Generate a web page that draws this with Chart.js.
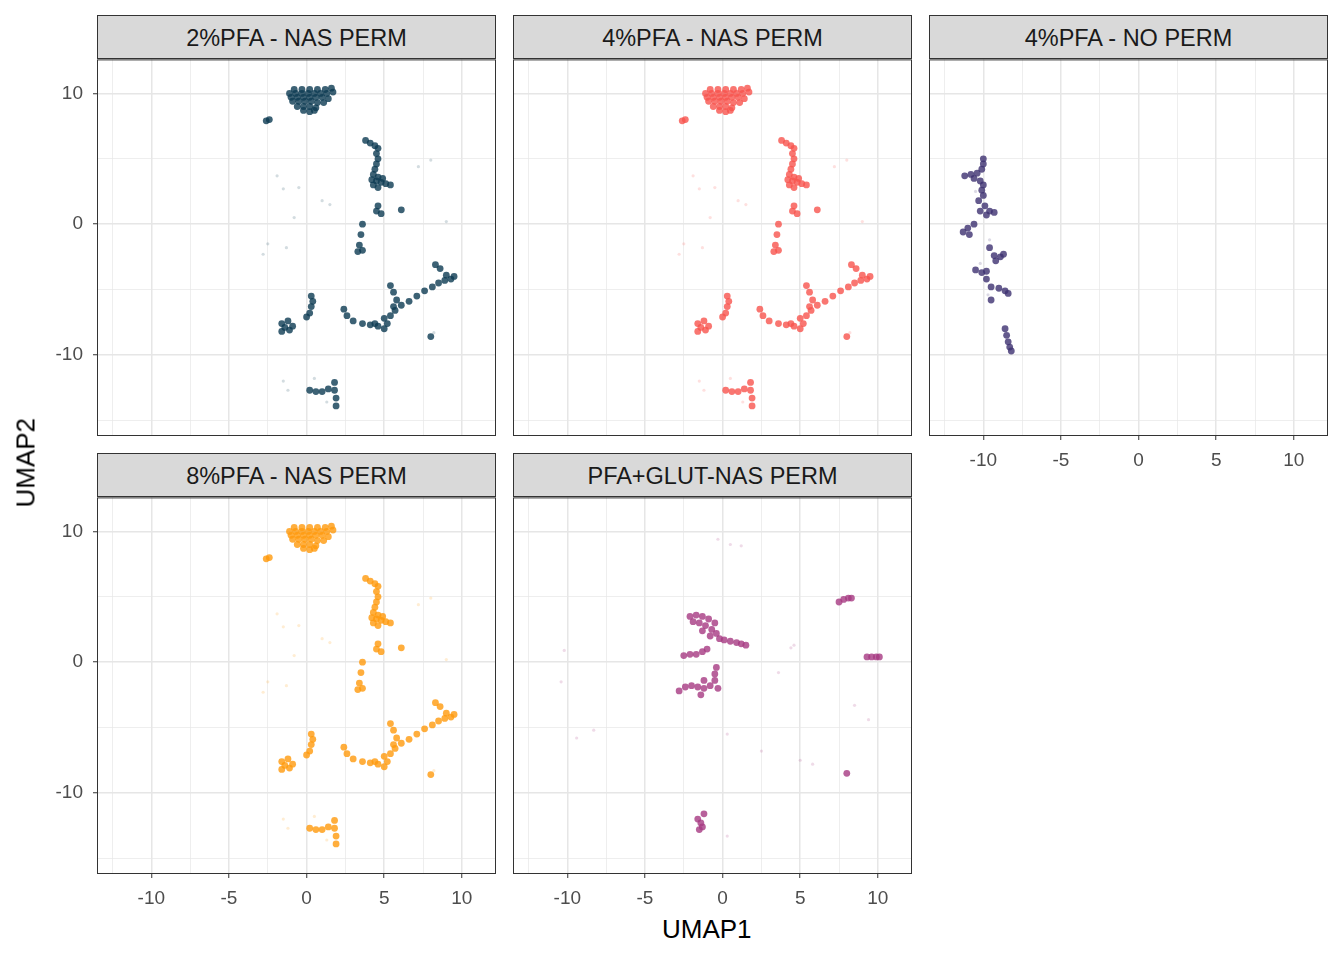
<!DOCTYPE html>
<html><head><meta charset="utf-8">
<script src="https://cdn.jsdelivr.net/npm/chart.js@4"></script>
<style>
body{margin:0;width:1344px;height:960px;background:#fff;position:relative;font-family:"Liberation Sans",Arial,sans-serif;overflow:hidden}
canvas{position:absolute}
.strip{position:absolute;width:397px;height:42px;background:#d9d9d9;border:1px solid #333;font-size:23.5px;color:#1a1a1a;text-align:center;line-height:44px}
.t{position:absolute;font-size:26px;color:#000}
</style></head><body>
<script>
// ---- data ----
const panelTitles = ["2%PFA - NAS PERM","4%PFA - NAS PERM","4%PFA - NO PERM","8%PFA - NAS PERM","PFA+GLUT-NAS PERM"];
const xTickLabels = [-10,-5,0,5,10];
const yTickLabels = [-10,0,10];
const nasPermPoints = [
 [-0.8,10.3],[-0.3,10.3],[0.2,10.3],[0.7,10.3],[1.2,10.3],[1.6,10.4],
 [-1.1,10],[-0.7,10],[-0.3,10],[0.1,10],[0.5,10],[0.9,10],[1.3,10],[1.7,10.1],
 [-1,9.7],[-0.6,9.7],[-0.2,9.7],[0.2,9.7],[0.6,9.7],[1,9.7],[1.4,9.6],
 [-0.9,9.4],[-0.5,9.4],[-0.1,9.4],[0.3,9.4],[0.7,9.3],[1.1,9.3],
 [-0.6,9.0],[-0.2,9.0],[0.2,9.0],[0.6,8.9],[-0.2,8.7],[0.2,8.6],[0.5,8.7],
 [-2.6,7.9],[-2.4,8.0],
 [3.8,6.4],[4.1,6.2],[4.4,6.0],[4.6,5.8],[4.5,5.4],[4.6,5.0],[4.5,4.6],[4.4,4.2],[4.3,3.8],
 [4.2,3.4],[4.5,3.3],[4.8,3.2],[5.1,3.1],[5.4,3.0],[4.6,2.8],[4.3,3.0],[4.9,3.5],[4.6,3.6],
 [4.6,1.4],[4.5,1.0],[4.8,0.8],[6.1,1.1],
 [3.6,0.0],[3.5,-0.8],[3.4,-1.6],[3.3,-2.1],[3.6,-2.0],
 [5.2,-7.6],[5.0,-7.2],[5.4,-7.0],[5.7,-6.6],[6.1,-6.2],[6.6,-5.9],[7.1,-5.5],[7.6,-5.1],
 [8.1,-4.8],[8.5,-4.5],[8.9,-4.3],[9.3,-4.2],[9.5,-4.0],[9.0,-3.9],[8.6,-3.4],[8.3,-3.1],
 [5.4,-4.7],[5.6,-5.2],[5.8,-5.8],[5.6,-6.3],[4.6,-7.8],[5.0,-8.0],[4.4,-7.6],
 [-1.6,-7.6],[-1.4,-7.9],[-1.1,-8.1],[-1.6,-8.2],[-1.2,-7.4],[-0.9,-7.8],
 [0.3,-5.5],[0.4,-5.9],[0.3,-6.3],[0.2,-6.8],[0.0,-7.1],
 [2.4,-6.5],[2.6,-7.0],[3.0,-7.4],[3.6,-7.6],[4.1,-7.7],
 [0.2,-12.7],[0.6,-12.8],[1.0,-12.8],[1.4,-12.6],[1.8,-12.1],[1.8,-12.7],[1.9,-13.3],[1.9,-13.9],
 [8.0,-8.6]
];
const nasPermFaint = [[-1.9,3.7],[-1.5,2.7],[-0.5,2.8],[1.0,1.8],[1.5,1.5],[-2.5,-1.5],[-2.8,-2.3],
 [-1.3,-1.8],[-0.8,0.5],[7.2,4.4],[8.0,4.9],[9.0,0.2],[8.2,-8.3],[-1.5,-12],[-1.2,-12.7],[1.3,-13.6],[0.5,-11.8]];
const noPermPoints = [
 [-10,5],[-10,4.6],[-10.1,4.2],[-10.4,3.9],[-10.8,3.8],[-11.2,3.7],[-10.6,3.5],[-10.2,3.3],
 [-10.0,3.0],[-10.1,2.6],[-10.0,2.2],[-10.3,1.8],[-9.9,1.4],[-9.6,1.0],[-9.3,0.9],[-9.8,0.7],
 [-10.2,1.0],[-10.6,0.0],[-11.0,-0.3],[-11.3,-0.6],[-10.9,-0.8],
 [-9.6,-1.8],[-9.3,-2.4],[-8.9,-2.5],[-8.7,-2.3],[-9.2,-2.8],
 [-10.5,-3.5],[-10.1,-3.7],[-9.8,-3.6],[-9.8,-4.2],[-9.5,-4.8],[-9.0,-4.9],[-8.6,-5.1],[-8.4,-5.3],[-9.5,-5.8],
 [-8.6,-8.0],[-8.5,-8.5],[-8.4,-9.0],[-8.3,-9.4],[-8.2,-9.7]
];
const noPermFaint = [[-10.5,2.5],[-9.6,-1.2],[-10.2,-3.0],[-9.7,-5.4]];
const glutPoints = [
 [-2.1,3.5],[-1.7,3.6],[-1.3,3.5],[-0.9,3.3],[-0.5,3.0],[-1.9,3.1],[-1.5,3.0],[-1.1,2.8],
 [-0.7,2.5],[-0.4,2.2],[-0.2,1.8],[-0.8,2.0],[-1.3,2.4],
 [-2.5,0.5],[-2.1,0.6],[-1.7,0.6],[-1.3,0.8],[-1.0,1.0],
 [0.1,1.7],[0.5,1.6],[0.9,1.5],[1.2,1.4],[1.5,1.3],
 [-2.8,-2.2],[-2.4,-1.9],[-2.0,-1.8],[-1.6,-1.9],[-1.2,-2.0],[-0.8,-1.8],[-0.5,-1.4],
 [-0.4,-0.4],[-0.5,-0.9],[-0.3,-2.0],[-1.4,-2.5],[-1.2,-1.4],
 [7.5,4.6],[7.8,4.8],[8.1,4.9],[8.3,4.9],
 [9.3,0.4],[9.6,0.4],[9.9,0.4],[10.1,0.4],
 [-1.6,-12.0],[-1.4,-12.3],[-1.3,-12.6],[-1.5,-12.8],[-1.2,-11.6],
 [8.0,-8.5]
];
const glutFaint = [[-0.3,9.4],[0.5,9.0],[1.2,8.9],[-10.2,0.9],[-10.4,-1.5],[-9.4,-5.8],[-8.3,-5.2],
 [4.6,1.3],[4.4,1.1],[3.6,-0.8],[5.0,-7.5],[5.8,-7.8],[8.5,-3.3],[9.4,-4.4],[0.3,-5.5],[2.5,-6.8],[0.3,-13.3]];
const panelColors = ["13,59,82","248,84,77","61,49,112","255,154,13","166,58,130"];
const panels = [
 {pts:nasPermPoints, faint:nasPermFaint, left:97, top:60, yLab:true, xLab:false},
 {pts:nasPermPoints, faint:nasPermFaint, left:513, top:60, yLab:false, xLab:false},
 {pts:noPermPoints, faint:noPermFaint, left:929, top:60, yLab:false, xLab:true},
 {pts:nasPermPoints, faint:nasPermFaint, left:97, top:498, yLab:true, xLab:true},
 {pts:glutPoints, faint:glutFaint, left:513, top:498, yLab:false, xLab:true}
];
const border = {id:'border', afterDatasetsDraw(c){const a=c.chartArea,x=c.ctx;x.save();x.strokeStyle='#333';x.lineWidth=1;x.strokeRect(a.left+0.5,a.top+0.5,a.width-1,a.height-1);x.restore();}};
panels.forEach((p,i)=>{
 const s=document.createElement('div');s.className='strip';s.style.left=p.left+'px';s.style.top=(p.top-45)+'px';s.textContent=panelTitles[i];document.body.appendChild(s);
 const cv=document.createElement('canvas');cv.width=459;cv.height=438;cv.style.left=(p.left-60)+'px';cv.style.top=(p.top-22)+'px';document.body.appendChild(cv);
 const col=panelColors[i];
 const isMaj=(major,ctx)=>ctx.tick&&major.includes(ctx.tick.value);
 new Chart(cv,{type:'scatter',
  data:{datasets:[
   {data:p.faint.map(d=>({x:d[0],y:d[1]})),pointRadius:1.6,pointBorderWidth:0,backgroundColor:`rgba(${col},0.18)`},
   {data:p.pts.map(d=>({x:d[0],y:d[1]})),pointRadius:3.4,pointBorderWidth:0,backgroundColor:`rgba(${col},0.8)`}
  ]},
  options:{responsive:false,animation:false,layout:{padding:0,autoPadding:false},
   plugins:{legend:{display:false},tooltip:{enabled:false}},
   scales:{
    x:{type:'linear',min:-13.5,max:12.2,
     afterBuildTicks:a=>{a.ticks=[-12.5,-10,-7.5,-5,-2.5,0,2.5,5,7.5,10].map(v=>({value:v}));},
     afterFit:a=>{a.height=40;},
     border:{display:false},
     grid:{color:'#e6e6e6',lineWidth:ctx=>isMaj(xTickLabels,ctx)?1.5:0.7,drawTicks:p.xLab,tickLength:4,
       tickColor:ctx=>isMaj(xTickLabels,ctx)?'#333':'rgba(0,0,0,0)',tickWidth:1},
     ticks:{padding:9,color:'#4d4d4d',font:{size:19,family:'Liberation Sans'},maxRotation:0,autoSkip:false,
      callback:v=>(p.xLab&&xTickLabels.includes(v))?String(v):''}},
    y:{type:'linear',min:-16.2,max:12.6,
     afterBuildTicks:a=>{a.ticks=[-15,-10,-5,0,5,10].map(v=>({value:v}));},
     afterFit:a=>{a.width=60;},
     border:{display:false},
     grid:{color:'#e6e6e6',lineWidth:ctx=>isMaj(yTickLabels,ctx)?1.5:0.7,drawTicks:p.yLab,tickLength:4,
       tickColor:ctx=>isMaj(yTickLabels,ctx)?'#333':'rgba(0,0,0,0)',tickWidth:1},
     ticks:{padding:10,color:'#4d4d4d',font:{size:19,family:'Liberation Sans'},autoSkip:false,
      callback:v=>(p.yLab&&yTickLabels.includes(v))?String(v):''}}
   }},
  plugins:[border]});
});
</script>
<div class="t" style="left:662px;top:914px">UMAP1</div>
<div class="t" style="left:-14px;top:452px;transform:rotate(-90deg);transform-origin:center;width:80px;text-align:center">UMAP2</div>
</body></html>
